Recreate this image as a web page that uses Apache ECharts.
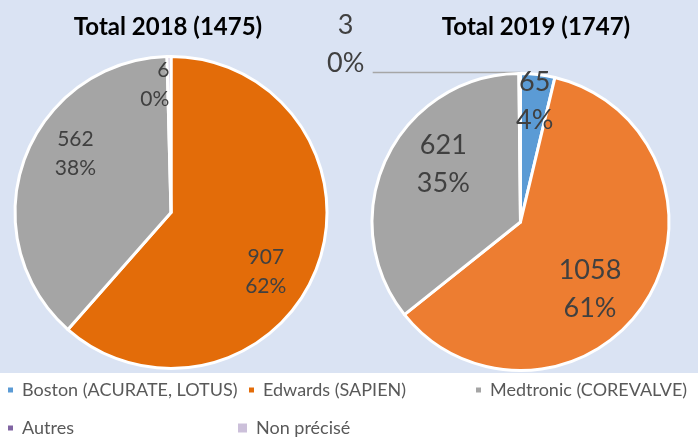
<!DOCTYPE html>
<html><head><meta charset="utf-8">
<script src="https://cdn.jsdelivr.net/npm/echarts@6/dist/echarts.min.js"></script>
<style>html,body{margin:0;padding:0;background:#fff}#c{width:698px;height:439px}</style>
</head><body><div id="c"></div>
<script>
// ---- data ----
const categories = ['Boston (ACURATE, LOTUS)', 'Edwards (SAPIEN)', 'Medtronic (COREVALVE)', 'Autres', 'Non précisé'];
const years = ['2018', '2019'];
const values2018 = [0, 907, 562, 0, 6];
const values2019 = [65, 1058, 621, 3, 0];

// ---- styling / layout (not data) ----
const FONT = 'Lato';
const colors2018 = ['#5b9bd5', '#e36c09', '#a5a5a5', '#8064a2', '#ccc0da'];
const colors2019 = ['#5b9bd5', '#ed7d31', '#a5a5a5', '#8064a2', '#ccc0da'];
const placement2018 = ['none', 'big', 'big', 'none', 'small'];
const placement2019 = ['small', 'big', 'big', 'outside', 'none'];

const pies = [
  { values: values2018, colors: colors2018, place: placement2018, center: [171, 212.5], radius: 156,
    bigR: 218, smallR: 250, smallAlign: 'right', font: 21, lh: 29, titleX: 168 },
  { values: values2019, colors: colors2019, place: placement2019, center: [520.5, 222], radius: 148.5,
    bigR: 187, smallR: 237, smallAlign: 'center', font: 27, lh: 38, titleX: 536 }
];

const labelColor = '#404040';
const series = [];
const overlays = [];
pies.forEach(function (p) {
  const idx = categories.map(function (_, i) { return i; }).filter(function (i) { return p.values[i] > 0; });
  // visible slices
  series.push({
    type: 'pie', center: p.center, radius: [0, p.radius], startAngle: 90, clockwise: true,
    avoidLabelOverlap: false, percentPrecision: 0,
    emphasis: { disabled: true },
    itemStyle: { borderColor: '#ffffff', borderWidth: 3 },
    label: { show: false },
    labelLine: { show: false },
    data: idx.map(function (i) {
      const d = { name: categories[i], value: p.values[i], itemStyle: { color: p.colors[i] } };
      if (p.place[i] === 'outside') {
        d.label = { show: true, position: 'outside', alignTo: 'none', formatter: '{a|{c}}\n{a|{d}%}\n{s| }',
          rich: {
            a: { width: 44, align: 'center', color: labelColor, fontFamily: FONT, fontSize: p.font, lineHeight: p.lh },
            s: { fontSize: 10, lineHeight: 56 }
          } };
        d.labelLine = { show: true, length: 1, length2: 147, smooth: false,
          lineStyle: { color: '#a6a6a6', width: 1.5 } };
      }
      return d;
    })
  });
  // transparent label layers
  [['big', p.bigR, 78.5, 'center'], ['small', p.smallR, 90, p.smallAlign]].forEach(function (o) {
    overlays.push({
      type: 'pie', center: p.center, radius: [0, o[1]], startAngle: o[2], clockwise: true,
      avoidLabelOverlap: false, percentPrecision: 0, silent: true,
      emphasis: { disabled: true },
      itemStyle: { color: 'rgba(0,0,0,0)', borderWidth: 0 },
      labelLine: { show: false },
      labelLayout: { align: o[3] },
      data: idx.map(function (i) {
        return { name: categories[i], value: p.values[i],
          label: { show: p.place[i] === o[0], position: 'inside', formatter: '{c}\n{d}%',
            color: labelColor, fontFamily: FONT, fontSize: p.font, lineHeight: p.lh } };
      })
    });
  });
});

const titles = pies.map(function (p, k) {
  const total = p.values.reduce(function (a, b) { return a + b; }, 0);
  return { text: 'Total ' + years[k] + ' (' + total + ')', left: p.titleX, top: 13, textAlign: 'center', padding: 0,
    textStyle: { fontFamily: FONT, fontWeight: 'bold', fontSize: 24, lineHeight: 28, color: '#000000' } };
});

const legendPos = [[6, 380], [247, 380], [474, 380], [6, 418], [236, 418]];
const legendSize = [7, 7, 7, 7, 11];
const legends = categories.map(function (c, i) {
  return { data: [c], left: legendPos[i][0], top: legendPos[i][1], padding: 0, icon: 'rect',
    itemWidth: legendSize[i], itemHeight: legendSize[i], selectedMode: true,
    textStyle: { fontFamily: FONT, fontSize: 18, lineHeight: 20, color: '#595959', padding: [0, 0, 0, 3] } };
});

const chart = echarts.init(document.getElementById('c'), null, { renderer: 'canvas' });
chart.setOption({
  animation: false,
  backgroundColor: '#ffffff',
  graphic: [{ type: 'rect', z: -10, shape: { x: 0, y: 0, width: 698, height: 373 }, style: { fill: '#dae3f3' } }],
  title: titles,
  legend: legends,
  series: series.concat(overlays)
});
</script></body></html>
